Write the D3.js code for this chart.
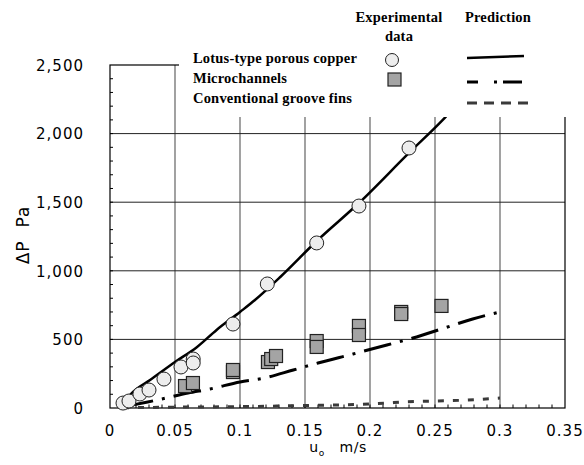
<!DOCTYPE html>
<html>
<head>
<meta charset="utf-8">
<script src="https://cdn.jsdelivr.net/npm/d3@7"></script>
<style>
  body { margin: 0; background: #fff; }
  .tick_label { font-family: "DejaVu Sans", sans-serif; font-size: 15px; letter-spacing: 1px; fill: #000; }
  .legend_text { font-family: "Liberation Serif", serif; font-weight: bold; font-size: 14.5px; letter-spacing: 0.2px; fill: #000; }
</style>
</head>
<body>
<div class="chart"></div>
<script>
// experimental data, u_o (m/s) vs pressure drop (Pa)
var lotus_u  = [0.010, 0.0146, 0.023, 0.030, 0.0415, 0.0546, 0.064, 0.064, 0.0946, 0.121, 0.159, 0.1915, 0.230];
var lotus_dp = [36, 51, 102, 131, 211, 299, 357, 328, 612, 904, 1203, 1472, 1895];

var micro_u  = [0.0577, 0.0638, 0.0946, 0.0946, 0.1215, 0.124, 0.1277, 0.159, 0.159, 0.1915, 0.1915, 0.224, 0.224, 0.255];
var micro_dp = [160, 182, 262, 277, 335, 357, 379, 488, 445, 598, 532, 700, 685, 744];

// predictions
var lotus_pred_u  = [0.008, 0.0177, 0.0308, 0.05, 0.067, 0.082, 0.1, 0.1115, 0.131, 0.159, 0.1915, 0.23, 0.256, 0.262];
var lotus_pred_dp = [10, 117, 204, 335, 445, 569, 700, 787, 955, 1217, 1494, 1859, 2100, 2160];

var micro_pred_u  = [0.012, 0.029, 0.04, 0.06, 0.077, 0.1, 0.119, 0.141, 0.16, 0.187, 0.213, 0.233, 0.255, 0.279, 0.3];
var micro_pred_dp = [12, 44, 66, 109, 139, 190, 219, 277, 328, 394, 459, 510, 576, 649, 700];

var groove_pred_u  = [0.01, 0.05, 0.1, 0.15, 0.2, 0.213, 0.225, 0.25, 0.275, 0.3];
var groove_pred_dp = [2, 6, 10, 18, 29, 36, 44, 51, 58, 73];

var x_ticks = [0, 0.05, 0.1, 0.15, 0.2, 0.25, 0.3, 0.35];
var x_tick_labels = ["0", "0.05", "0.1", "0.15", "0.2", "0.25", "0.3", "0.35"];
var y_ticks = [0, 500, 1000, 1500, 2000, 2500];
var y_tick_labels = ["0", "500", "1,000", "1,500", "2,000", "2,500"];

var width = 584, height = 465;
var svg = d3.select(".chart").append("svg")
    .attr("width", width)
    .attr("height", height);

var x = d3.scaleLinear().domain([0, 0.35]).range([110, 565]);
var y = d3.scaleLinear().domain([0, 2500]).range([408, 65]);

// grid
svg.append("g").selectAll("line")
    .data(x_ticks.slice(1, -1))
    .enter().append("line")
      .attr("x1", function(d) { return x(d); })
      .attr("x2", function(d) { return x(d); })
      .attr("y1", y(0)).attr("y2", y(2500))
      .attr("stroke", "#7a7a7a").attr("stroke-width", 1.4);

svg.append("g").selectAll("line")
    .data(y_ticks.slice(1, -1))
    .enter().append("line")
      .attr("x1", x(0)).attr("x2", x(0.35))
      .attr("y1", function(d) { return y(d); })
      .attr("y2", function(d) { return y(d); })
      .attr("stroke", "#222").attr("stroke-width", 1);

// frame
svg.append("rect")
    .attr("x", x(0)).attr("y", y(2500))
    .attr("width", x(0.35) - x(0)).attr("height", y(0) - y(2500))
    .attr("fill", "none").attr("stroke", "#000").attr("stroke-width", 1.2);

// minor ticks, inside
svg.append("g").selectAll("line")
    .data(d3.range(100, 2500, 100))
    .enter().append("line")
      .attr("x1", x(0)).attr("x2", x(0) + 3)
      .attr("y1", function(d) { return y(d); })
      .attr("y2", function(d) { return y(d); })
      .attr("stroke", "#000");

svg.append("g").selectAll("line")
    .data(d3.range(1, 35).map(function(i) { return i / 100; }))
    .enter().append("line")
      .attr("x1", function(d) { return x(d); })
      .attr("x2", function(d) { return x(d); })
      .attr("y1", y(0)).attr("y2", y(0) - 3.5)
      .attr("stroke", "#000");

// tick labels
svg.append("g").selectAll("text")
    .data(y_ticks)
    .enter().append("text")
      .attr("class", "tick_label")
      .attr("x", 84)
      .attr("y", function(d) { return y(d); })
      .attr("dy", "0.38em")
      .attr("text-anchor", "end")
      .text(function(d, i) { return y_tick_labels[i]; });

svg.append("g").selectAll("text")
    .data(x_ticks)
    .enter().append("text")
      .attr("class", "tick_label")
      .attr("x", function(d) { return x(d); })
      .attr("y", 436)
      .attr("text-anchor", "middle")
      .text(function(d, i) { return x_tick_labels[i]; });

// axis titles
svg.append("text")
    .attr("class", "tick_label")
    .attr("transform", "translate(29,235) rotate(-90)")
    .attr("text-anchor", "middle")
    .style("font-size", "17px")
    .text("\u0394P\u00a0\u00a0Pa");

var xt = svg.append("text")
    .attr("class", "tick_label")
    .attr("x", 338).attr("y", 452)
    .attr("text-anchor", "middle")
    .style("font-size", "14px")
    .style("letter-spacing", "0.5px");
xt.append("tspan").text("u");
xt.append("tspan").attr("dy", 4).style("font-size", "9px").text("o");
xt.append("tspan").attr("dy", -4).text("\u00a0\u00a0\u00a0m/s");

// prediction lines
function pairs(us, dps) {
  return us.map(function(u, i) { return [u, dps[i]]; });
}
var line = d3.line()
    .x(function(d) { return x(d[0]); })
    .y(function(d) { return y(d[1]); })
    .curve(d3.curveMonotoneX);

svg.append("path")
    .datum(pairs(groove_pred_u, groove_pred_dp))
    .attr("d", line)
    .attr("fill", "none").attr("stroke", "#3a3a3a")
    .attr("stroke-width", 3).attr("stroke-dasharray", "6,9");

svg.append("path")
    .datum(pairs(micro_pred_u, micro_pred_dp))
    .attr("d", line)
    .attr("fill", "none").attr("stroke", "#000")
    .attr("stroke-width", 3).attr("stroke-dasharray", "28,9,3,9");

svg.append("path")
    .datum(pairs(lotus_pred_u, lotus_pred_dp))
    .attr("d", line)
    .attr("fill", "none").attr("stroke", "#000")
    .attr("stroke-width", 2.5);

// experimental points
svg.append("g").selectAll("rect")
    .data(pairs(micro_u, micro_dp))
    .enter().append("rect")
      .attr("x", function(d) { return x(d[0]) - 6.5; })
      .attr("y", function(d) { return y(d[1]) - 6.5; })
      .attr("width", 13).attr("height", 13)
      .attr("fill", "#a4a4a4").attr("stroke", "#222").attr("stroke-width", 1.2);

svg.append("g").selectAll("circle")
    .data(pairs(lotus_u, lotus_dp))
    .enter().append("circle")
      .attr("cx", function(d) { return x(d[0]); })
      .attr("cy", function(d) { return y(d[1]); })
      .attr("r", 7)
      .attr("fill", "#ededed").attr("stroke", "#222").attr("stroke-width", 1);

// legend box sits over the top right of the plot
var legend = svg.append("g");
legend.append("rect")
    .attr("x", 179).attr("y", 0)
    .attr("width", width - 179).attr("height", 117)
    .attr("fill", "#fff");

legend.append("text").attr("class", "legend_text")
    .attr("x", 399).attr("y", 22).attr("text-anchor", "middle").text("Experimental");
legend.append("text").attr("class", "legend_text")
    .attr("x", 399).attr("y", 41).attr("text-anchor", "middle").text("data");
legend.append("text").attr("class", "legend_text")
    .attr("x", 498).attr("y", 22).attr("text-anchor", "middle").text("Prediction");

var names = ["Lotus-type porous copper", "Microchannels", "Conventional groove fins"];
legend.selectAll(".legend_name")
    .data(names)
    .enter().append("text")
      .attr("class", "legend_text legend_name")
      .attr("x", 193)
      .attr("y", function(d, i) { return 63 + i * 20; })
      .text(function(d) { return d; });

legend.append("circle")
    .attr("cx", 392).attr("cy", 60).attr("r", 6.5)
    .attr("fill", "#ededed").attr("stroke", "#222");
legend.append("rect")
    .attr("x", 388).attr("y", 73).attr("width", 13).attr("height", 13)
    .attr("fill", "#a4a4a4").attr("stroke", "#222").attr("stroke-width", 1.2);

legend.append("line")
    .attr("x1", 467).attr("x2", 524).attr("y1", 58).attr("y2", 56)
    .attr("stroke", "#000").attr("stroke-width", 2.5);
legend.append("line")
    .attr("x1", 467).attr("x2", 523).attr("y1", 82).attr("y2", 82)
    .attr("stroke", "#000").attr("stroke-width", 3).attr("stroke-dasharray", "11,16,3,6,19");
legend.append("line")
    .attr("x1", 467).attr("x2", 528).attr("y1", 103).attr("y2", 103)
    .attr("stroke", "#3a3a3a").attr("stroke-width", 3).attr("stroke-dasharray", "10,7");
</script>
</body>
</html>
